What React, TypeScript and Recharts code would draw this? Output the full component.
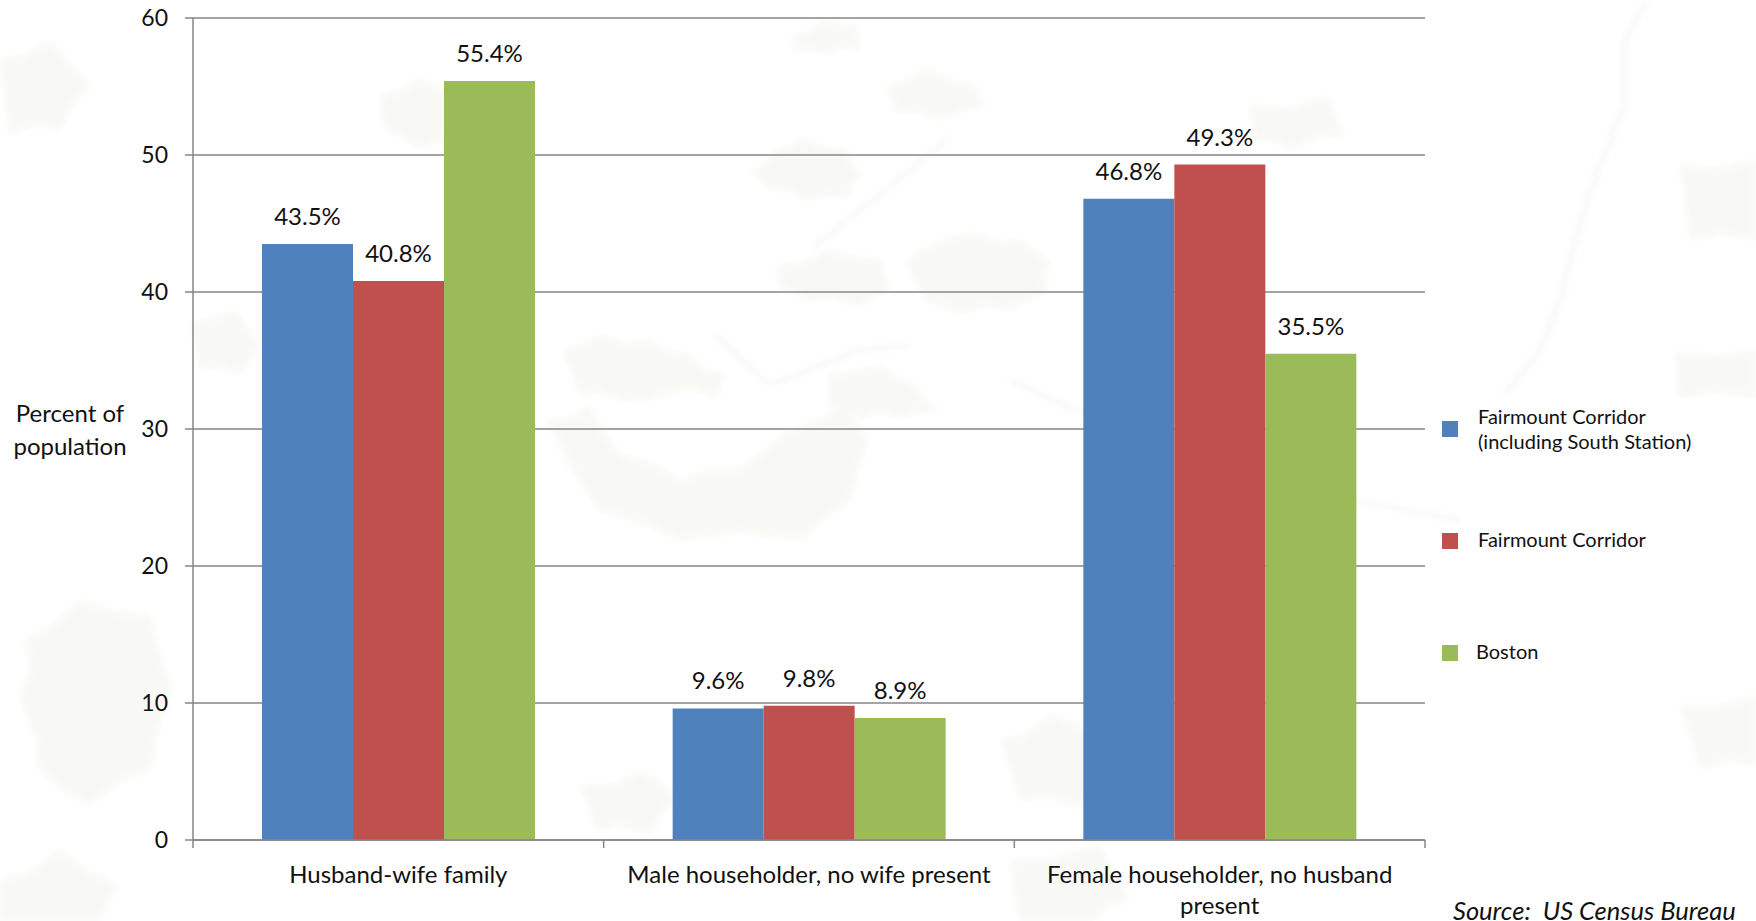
import { BarChart, Bar, XAxis, YAxis, CartesianGrid, LabelList, Legend } from "recharts";

const categories = [
  "Husband-wife family",
  "Male householder, no wife present",
  "Female householder, no husband present",
];
// where each category name breaks onto a new line
const categoryLines: Record<string, string[]> = {
  "Female householder, no husband present": ["Female householder, no husband", "present"],
};
const corridorSouthStation = [43.5, 9.6, 46.8];
const corridor = [40.8, 9.8, 49.3];
const boston = [55.4, 8.9, 35.5];
const yTicks = [0, 10, 20, 30, 40, 50, 60];

const chartData = categories.map((name, i) => ({
  name,
  corridorSouthStation: corridorSouthStation[i],
  corridor: corridor[i],
  boston: boston[i],
}));

const FONT = "Lato, 'Noto Sans', sans-serif";
const AXIS_GREY = "#868686";
const TEXT_COLOR = "#111";
const LABEL_SIZE = 24;

const legendItems = [
  { lines: ["Fairmount Corridor", "(including South Station)"], color: "#4F81BD", top: 14, textLeft: 17 },
  { lines: ["Fairmount Corridor"], color: "#C0504D", top: 126, textLeft: 17 },
  { lines: ["Boston"], color: "#9BBB59", top: 238, textLeft: 15 },
];

// washed-out street map behind the plot: parks as polygons, roads as lines
const mapParks = [
  "907,262 920,250 935,245 950,238 975,233 1000,242 1020,240 1036,252 1050,262 1044,278 1048,292 1030,298 1010,310 985,306 960,314 940,304 925,300 915,280",
  "750,172 765,165 775,150 790,148 800,137 825,148 850,150 852,165 863,175 848,184 850,198 825,195 805,200 790,190 770,190 762,180",
  "563,350 585,345 600,335 625,343 650,340 668,352 690,355 705,370 727,375 718,388 720,398 695,390 670,392 645,402 620,400 600,392 580,395 572,372",
  "547,420 570,418 590,405 603,432 620,455 650,462 680,480 710,470 740,470 765,450 790,430 820,420 845,403 855,420 868,440 858,470 850,500 825,518 800,540 740,532 680,540 640,522 600,510 572,470",
  "827,375 850,372 880,365 897,378 915,385 925,400 940,410 920,412 900,418 880,412 860,418 845,410 830,405",
  "777,265 805,262 830,250 855,258 880,258 884,275 890,290 875,296 860,307 835,298 810,300 795,292 780,288",
  "887,85 905,82 925,68 950,80 975,85 978,96 987,105 965,110 940,120 918,112 895,112",
  "793,35 808,32 825,20 842,26 858,25 856,38 862,50 843,48 825,54 810,50 795,52",
  "380,95 398,92 420,78 445,92 470,100 462,120 465,140 442,140 420,148 402,136 385,130",
  "190,320 212,320 235,310 246,328 260,345 250,358 240,375 220,366 200,370 196,345",
  "25,640 50,628 80,600 115,612 150,615 158,650 172,690 158,730 150,770 122,780 90,805 62,790 40,770 35,735 20,700 30,670",
  "1000,740 1025,735 1050,715 1085,728 1115,730 1114,755 1125,780 1102,788 1080,808 1050,798 1020,800 1012,770",
  "580,785 612,785 640,772 660,782 675,800 660,815 650,835 622,825 595,830 590,808",
  "1680,165 1718,168 1756,160 1756,240 1722,234 1690,240 1686,202",
  "1675,352 1716,356 1756,350 1756,398 1718,392 1680,398",
  "1680,705 1718,706 1756,695 1756,765 1728,760 1700,770 1692,738",
  "0,60 25,55 50,40 68,62 90,85 72,105 60,130 34,125 10,135",
  "1250,105 1290,108 1330,95 1334,116 1345,135 1316,138 1290,150 1272,140 1255,140",
  "0,880 30,872 60,850 88,872 120,885 108,902 100,921 0,921",
  "1010,860 1055,858 1100,845 1112,872 1130,900 1108,906 1090,921 1020,921",
];
const mapRoads = [
  "950,137 880,195 813,247",
  "1647,0 1625,40 1625,105 1590,190 1570,260 1560,300 1540,350 1505,395",
  "715,335 770,385 860,350 910,345",
  "1010,380 1120,430 1240,480 1461,520",
];

function CategoryTick({ x, y, payload, index, visibleTicksCount }: any) {
  const half = payload.offset;
  const lines = categoryLines[payload.value] ?? [payload.value];
  return (
    <g>
      <line x1={x - half} x2={x - half} y1={y - 8} y2={y} stroke={AXIS_GREY} strokeWidth={1.5} />
      {index === visibleTicksCount - 1 && (
        <line x1={x + half} x2={x + half} y1={y - 8} y2={y} stroke={AXIS_GREY} strokeWidth={1.5} />
      )}
      <text textAnchor="middle" fontFamily={FONT} fontSize={LABEL_SIZE} fill={TEXT_COLOR}>
        {lines.map((line: string, i: number) => (
          <tspan key={line} x={x} y={y + 35 + i * 31}>
            {line}
          </tspan>
        ))}
      </text>
    </g>
  );
}

function AxisTitle() {
  return (
    <text textAnchor="middle" fontFamily={FONT} fontSize={LABEL_SIZE} fill={TEXT_COLOR}>
      <tspan x={70} y={422}>Percent of</tspan>
      <tspan x={70} y={455}>population</tspan>
    </text>
  );
}

function LegendBlock() {
  return (
    <div style={{ position: "relative", width: 295, height: 297, background: "#fff", fontFamily: FONT, fontSize: 20, lineHeight: "25px", color: TEXT_COLOR }}>
      {legendItems.map((item) => (
        <div key={item.color}>
          <div style={{ position: "absolute", left: -19, top: item.top + 9, width: 16, height: 16, background: item.color }} />
          <div style={{ position: "absolute", left: item.textLeft, top: item.top + (item.lines.length > 1 ? -8 : 3), whiteSpace: "nowrap" }}>
            {item.lines.map((line) => (
              <div key={line}>{line}</div>
            ))}
          </div>
        </div>
      ))}
    </div>
  );
}

export default function App() {
  return (
    <div style={{ position: "absolute", left: 0, top: 0, width: 1756, height: 921, overflow: "hidden", background: "#fff" }}>
      <svg width={1756} height={921} style={{ position: "absolute", left: 0, top: 0 }}>
        <defs>
          <filter id="soft">
            <feGaussianBlur stdDeviation="3.5" />
          </filter>
        </defs>
        <g filter="url(#soft)">
          {mapParks.map((points) => (
            <polygon key={points} points={points} fill="#f8f9f5" />
          ))}
          {mapRoads.map((points) => (
            <polyline key={points} points={points} fill="none" stroke="#f6f6f8" strokeWidth={4} />
          ))}
        </g>
      </svg>
      <div style={{ position: "absolute", left: 0, top: 0 }}>
        <BarChart
          width={1756}
          height={921}
          data={chartData}
          margin={{ top: 18, right: 36, bottom: 0, left: 0 }}
          barCategoryGap={69}
          barGap={0}
        >
          <CartesianGrid vertical={false} stroke={AXIS_GREY} strokeWidth={1.5} />
          <XAxis
            dataKey="name"
            height={81}
            interval={0}
            stroke={AXIS_GREY}
            strokeWidth={1.5}
            tickLine={false}
            tick={<CategoryTick />}
          />
          <YAxis
            width={193}
            domain={[0, 60]}
            ticks={yTicks}
            interval={0}
            stroke={AXIS_GREY}
            strokeWidth={1.5}
            tickSize={8}
            tickMargin={17}
            tick={{ fontFamily: FONT, fontSize: 23, fill: TEXT_COLOR }}
            label={{ content: <AxisTitle /> }}
          />
          <Legend
            layout="vertical"
            align="right"
            verticalAlign="middle"
            wrapperStyle={{ left: 1461, top: 398, width: 295 }}
            content={<LegendBlock />}
          />
          <Bar dataKey="corridorSouthStation" fill="#4F81BD" isAnimationActive={false}>
            <LabelList dataKey="corridorSouthStation" position="top" offset={19} formatter={(v: number) => `${v}%`} fontFamily={FONT} fontSize={LABEL_SIZE} fill={TEXT_COLOR} />
          </Bar>
          <Bar dataKey="corridor" fill="#C0504D" isAnimationActive={false}>
            <LabelList dataKey="corridor" position="top" offset={19} formatter={(v: number) => `${v}%`} fontFamily={FONT} fontSize={LABEL_SIZE} fill={TEXT_COLOR} />
          </Bar>
          <Bar dataKey="boston" fill="#9BBB59" isAnimationActive={false}>
            <LabelList dataKey="boston" position="top" offset={19} formatter={(v: number) => `${v}%`} fontFamily={FONT} fontSize={LABEL_SIZE} fill={TEXT_COLOR} />
          </Bar>
        </BarChart>
      </div>
      <div style={{ position: "absolute", left: 1453, top: 895, fontFamily: FONT, fontStyle: "italic", fontSize: 25.5, color: TEXT_COLOR, whiteSpace: "pre" }}>
        Source:  US Census Bureau
      </div>
    </div>
  );
}
